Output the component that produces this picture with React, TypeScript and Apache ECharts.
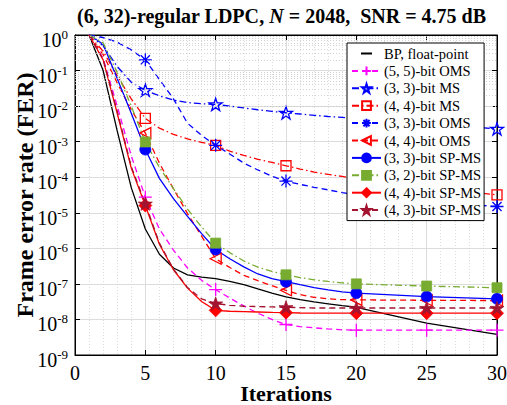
import React, { useEffect, useRef } from 'react';
import * as echarts from 'echarts';

// Iterations at which values were read
const ITER = [1, 2, 3, 4, 5, 6, 7, 8, 9, 10, 11, 12, 13, 14, 15, 16, 17, 18, 19, 20, 25, 30];
// Iterations that carry a marker
const MARK_ITERS = [5, 10, 15, 20, 25, 30];

const BP_FLOAT = [1, 0.1, 2.0e-3, 5.1e-5, 3.5e-6, 6.8e-7, 2.8e-7, 1.8e-7, 1.55e-7, 1.4e-7, 1.17e-7, 9.5e-8, 7.2e-8, 5.5e-8, 4.3e-8, 3.6e-8, 3.1e-8, 2.75e-8, 2.45e-8, 2.2e-8, 7.9e-9, 3.8e-9];
const OMS_55 = [1, 0.22, 1e-2, 4e-4, 2.75e-5, 3.5e-6, 8.9e-7, 2.8e-7, 1.26e-7, 6.9e-8, 4e-8, 2.4e-8, 1.5e-8, 1e-8, 7.2e-9, 6.3e-9, 5.8e-9, 5.4e-9, 5.1e-9, 5e-9, 5e-9, 5e-9];
const MS_33 = [1, 0.5, 0.13, 4.7e-2, 2.8e-2, 1.95e-2, 1.48e-2, 1.26e-2, 1.17e-2, 1.12e-2, 1e-2, 8.9e-3, 7.9e-3, 7.1e-3, 6.5e-3, 6e-3, 5.5e-3, 5.1e-3, 4.8e-3, 4.5e-3, 3.2e-3, 2.3e-3];
const MS_44 = [1, 0.35, 7.1e-2, 1.6e-2, 4.5e-3, 2.4e-3, 1.6e-3, 1.2e-3, 9.5e-4, 7.9e-4, 5.4e-4, 4.1e-4, 3.2e-4, 2.6e-4, 2.1e-4, 1.7e-4, 1.4e-4, 1.2e-4, 1.05e-4, 9.1e-5, 5.1e-5, 3.2e-5];
const OMS_33 = [1, 0.85, 0.63, 0.38, 0.2, 5.6e-2, 1.6e-2, 3.3e-3, 1.5e-3, 7.9e-4, 4.5e-4, 2.5e-4, 1.6e-4, 1.07e-4, 7.8e-5, 6.3e-5, 5.2e-5, 4.4e-5, 3.7e-5, 3.2e-5, 2.1e-5, 1.5e-5];
const OMS_44 = [1, 0.28, 4.5e-2, 7.9e-3, 1.74e-3, 2.5e-4, 4.7e-5, 9.5e-6, 2.2e-6, 5.1e-7, 2.9e-7, 1.74e-7, 1.23e-7, 8.9e-8, 6.6e-8, 5e-8, 4.2e-8, 3.8e-8, 3.6e-8, 3.55e-8, 3.45e-8, 3.4e-8];
const SPMS_33 = [1, 0.55, 6e-2, 6.3e-3, 6e-4, 9.3e-5, 2.5e-5, 7.9e-6, 2.6e-6, 9.3e-7, 5.1e-7, 3e-7, 1.9e-7, 1.4e-7, 1.15e-7, 9.5e-8, 7.9e-8, 6.8e-8, 6e-8, 5.5e-8, 4.4e-8, 3.8e-8];
const SPMS_32 = [1, 0.6, 8.9e-2, 1e-2, 9.8e-4, 1.9e-4, 4.8e-5, 1.26e-5, 4e-6, 1.4e-6, 7.6e-7, 4.4e-7, 2.95e-7, 2.24e-7, 1.8e-7, 1.5e-7, 1.3e-7, 1.17e-7, 1.07e-7, 1e-7, 8.7e-8, 7.8e-8];
const SPMS_44 = [1, 0.2, 6.3e-3, 1.8e-4, 1.6e-5, 1.3e-6, 2.5e-7, 7.6e-8, 3.2e-8, 1.8e-8, 1.7e-8, 1.66e-8, 1.62e-8, 1.58e-8, 1.55e-8, 1.52e-8, 1.5e-8, 1.5e-8, 1.5e-8, 1.5e-8, 1.5e-8, 1.5e-8];
const SPMS_43 = [1, 0.21, 7.1e-3, 2e-4, 1.8e-5, 1.4e-6, 2.6e-7, 7.9e-8, 3.8e-8, 2.8e-8, 2.5e-8, 2.35e-8, 2.3e-8, 2.25e-8, 2.2e-8, 2.15e-8, 2.1e-8, 2.1e-8, 2.1e-8, 2.1e-8, 2.1e-8, 2.1e-8];

const NAMES = [
  'BP, float-point',
  '(5, 5)-bit OMS',
  '(3, 3)-bit MS',
  '(4, 4)-bit MS',
  '(3, 3)-bit OMS',
  '(4, 4)-bit OMS',
  '(3, 3)-bit SP-MS',
  '(3, 2)-bit SP-MS',
  '(4, 4)-bit SP-MS',
  '(4, 3)-bit SP-MS',
];

const FONT = 'Liberation Serif';

const PLUS = 'path://M5,0L5,10M0,5L10,5';
const ASTER = 'path://M5,0L5,10M0,5L10,5M1.5,1.5L8.5,8.5M1.5,8.5L8.5,1.5';
const STAR = 'path://M5,0L6.12,3.45L9.76,3.45L6.82,5.59L7.94,9.05L5,6.91L2.06,9.05L3.18,5.59L0.24,3.45L3.88,3.45Z';
const TRI_LEFT = 'path://M0,5L10,0L10,10Z';
const SQUARE = 'path://M0,0L10,0L10,10L0,10Z';
// plain line icon with a square bounding box (for the marker-less BP entry)
const LINE_ICON = 'path://M0,0L0.001,0M0,5L10,5M0,10L0.001,10';

const DASH = [6, 4];
const DASHDOT = [7, 3, 1.5, 3];

export default function App() {
  const ref = useRef<HTMLDivElement>(null);

  useEffect(() => {
    if (!ref.current) return;
    const chart = echarts.init(ref.current, undefined, { renderer: 'svg' });

    const mk = (
      name: string,
      values: number[],
      color: string,
      lineType: any,
      symbol: string,
      size: number,
      filled: boolean,
      markers = true
    ) => ({
      name,
      type: 'line',
      xAxisIndex: 0,
      yAxisIndex: 0,
      showAllSymbol: true,
      symbol: markers ? symbol : 'none',
      symbolSize: size,
      symbolKeepAspect: true,
      z: 3,
      silent: true,
      lineStyle: { color, width: 1.3, type: lineType },
      itemStyle: {
        color: filled ? color : 'rgba(255,255,255,0)',
        borderColor: color,
        borderWidth: filled ? 0.8 : 1.3,
      },
      data: ITER.map((it, i) =>
        markers && MARK_ITERS.includes(it)
          ? [it, values[i]]
          : { value: [it, values[i]], symbol: 'none' }
      ),
    });

    const minorY: number[] = [];
    for (let e = -9; e < 0; e++) {
      for (let m = 2; m <= 9; m++) minorY.push(m * Math.pow(10, e));
    }

    const series: any[] = [
      {
        name: 'minor',
        type: 'line',
        data: [[15, 1e-9]],
        symbol: 'none',
        silent: true,
        z: 1,
        lineStyle: { width: 0 },
        markLine: {
          silent: true,
          symbol: 'none',
          label: { show: false },
          lineStyle: { type: [1, 2], color: '#c8c8c8', width: 0.8 },
          data: minorY.map((v) => ({ yAxis: v })),
        },
      },
      mk(NAMES[0], BP_FLOAT, '#000000', 'solid', 'none', 0, true, false),
      mk(NAMES[1], OMS_55, '#ff00ff', DASH, PLUS, 13, false),
      mk(NAMES[2], MS_33, '#0000ff', DASHDOT, STAR, 13, false),
      mk(NAMES[3], MS_44, '#ff0000', DASHDOT, SQUARE, 10, false),
      mk(NAMES[4], OMS_33, '#0000ff', DASH, ASTER, 13, false),
      mk(NAMES[5], OMS_44, '#ff0000', DASH, TRI_LEFT, 11, false),
      mk(NAMES[6], SPMS_33, '#0000ff', 'solid', 'circle', 11, true),
      mk(NAMES[7], SPMS_32, '#77ac30', DASHDOT, 'rect', 10, true),
      mk(NAMES[8], SPMS_44, '#ff0000', 'solid', 'diamond', 13, true),
      mk(NAMES[9], SPMS_43, '#a2142f', DASH, STAR, 14, true),
    ];

    const option: any = {
      animation: false,
      backgroundColor: '#ffffff',
      textStyle: { fontFamily: FONT },
      title: {
        text: '{n|(6, 32)}{b|-regular LDPC}{n|, }{i|N}{n| = 2048,  }{b|SNR}{n| = 4.75 }{b|dB}',
        left: 77,
        top: 6,
        padding: 0,
        textStyle: {
          fontFamily: FONT,
          fontSize: 20,
          color: '#000',
          rich: {
            n: { fontFamily: FONT, fontSize: 20, color: '#000' },
            b: { fontFamily: FONT, fontSize: 20, fontWeight: 'bold', color: '#000' },
            i: { fontFamily: FONT, fontSize: 20, fontStyle: 'italic', color: '#000' },
          },
        },
      },
      grid: {
        left: 75,
        right: 10,
        top: 35,
        bottom: 50,
        show: true,
        borderColor: '#000',
        borderWidth: 1,
        containLabel: false,
        outerBoundsMode: 'none',
      },
      legend: {
        orient: 'vertical',
        left: 347,
        top: 43,
        data: NAMES.map((n, i) => (i === 0 ? { name: n, icon: LINE_ICON } : n)),
        backgroundColor: '#ffffff',
        borderColor: '#000',
        borderWidth: 1,
        borderRadius: 0,
        padding: [3, 3, 3, 4],
        itemWidth: 29,
        itemHeight: 11,
        itemGap: 2.4,
        selectedMode: false,
        z: 10,
        textStyle: { fontFamily: FONT, fontSize: 14.5, lineHeight: 15, color: '#000', padding: [0, 0, 0, -2] },
      },
      xAxis: [
        {
          type: 'value',
          min: 0,
          max: 30,
          interval: 5,
          position: 'bottom',
          name: 'Iterations',
          nameLocation: 'middle',
          nameGap: 28,
          nameMoveOverlap: false,
          nameTextStyle: { fontFamily: FONT, fontSize: 22, lineHeight: 20, fontWeight: 'bold', color: '#000' },
          axisLine: { show: true, onZero: false, lineStyle: { color: '#000', width: 1 } },
          axisTick: { show: true, inside: true, length: 5, lineStyle: { color: '#000' } },
          axisLabel: { fontFamily: FONT, fontSize: 20, lineHeight: 16, color: '#000', margin: 10 },
          splitLine: { show: true, lineStyle: { color: '#dcdcdc', width: 1 } },
          minorTick: { show: false, splitNumber: 5 },
          minorSplitLine: { show: true, lineStyle: { color: '#d4d4d4', width: 0.8, type: [1, 2] } },
        },
        {
          type: 'value',
          min: 0,
          max: 30,
          interval: 5,
          position: 'top',
          axisLine: { show: true, onZero: false, lineStyle: { color: '#000', width: 1 } },
          axisTick: { show: true, inside: true, length: 5, lineStyle: { color: '#000' } },
          axisLabel: { show: false },
          splitLine: { show: false },
        },
      ],
      yAxis: [
        {
          type: 'log',
          logBase: 10,
          min: 1e-9,
          max: 1,
          splitNumber: 9,
          position: 'left',
          name: 'Frame error rate (FER)',
          nameLocation: 'middle',
          nameGap: 38,
          nameMoveOverlap: false,
          nameTextStyle: { fontFamily: FONT, fontSize: 24, fontWeight: 'bold', color: '#000' },
          axisLine: { show: true, onZero: false, lineStyle: { color: '#000', width: 1 } },
          axisTick: { show: true, inside: true, length: 5, lineStyle: { color: '#000' } },
          axisLabel: {
            margin: 7,
            padding: [8, 0, 0, 0],
            formatter: (v: number) => `{a|10}{b|${Math.round(Math.log10(v))}}`,
            rich: {
              a: { fontFamily: FONT, fontSize: 20, color: '#000', lineHeight: 22, verticalAlign: 'bottom' },
              b: { fontFamily: FONT, fontSize: 13, color: '#000', lineHeight: 14, verticalAlign: 'top' },
            },
          },
          splitLine: { show: true, lineStyle: { color: '#dcdcdc', width: 1 } },
        },
        {
          type: 'log',
          logBase: 10,
          min: 1e-9,
          max: 1,
          splitNumber: 9,
          position: 'right',
          axisLine: { show: true, onZero: false, lineStyle: { color: '#000', width: 1 } },
          axisTick: { show: true, inside: true, length: 5, lineStyle: { color: '#000' } },
          axisLabel: { show: false },
          splitLine: { show: false },
        },
      ],
      series,
    };

    chart.setOption(option);
    return () => chart.dispose();
  }, []);

  return (
    <div
      ref={ref}
      style={{ position: 'absolute', left: 0, top: 0, width: 507, height: 405 }}
    />
  );
}
